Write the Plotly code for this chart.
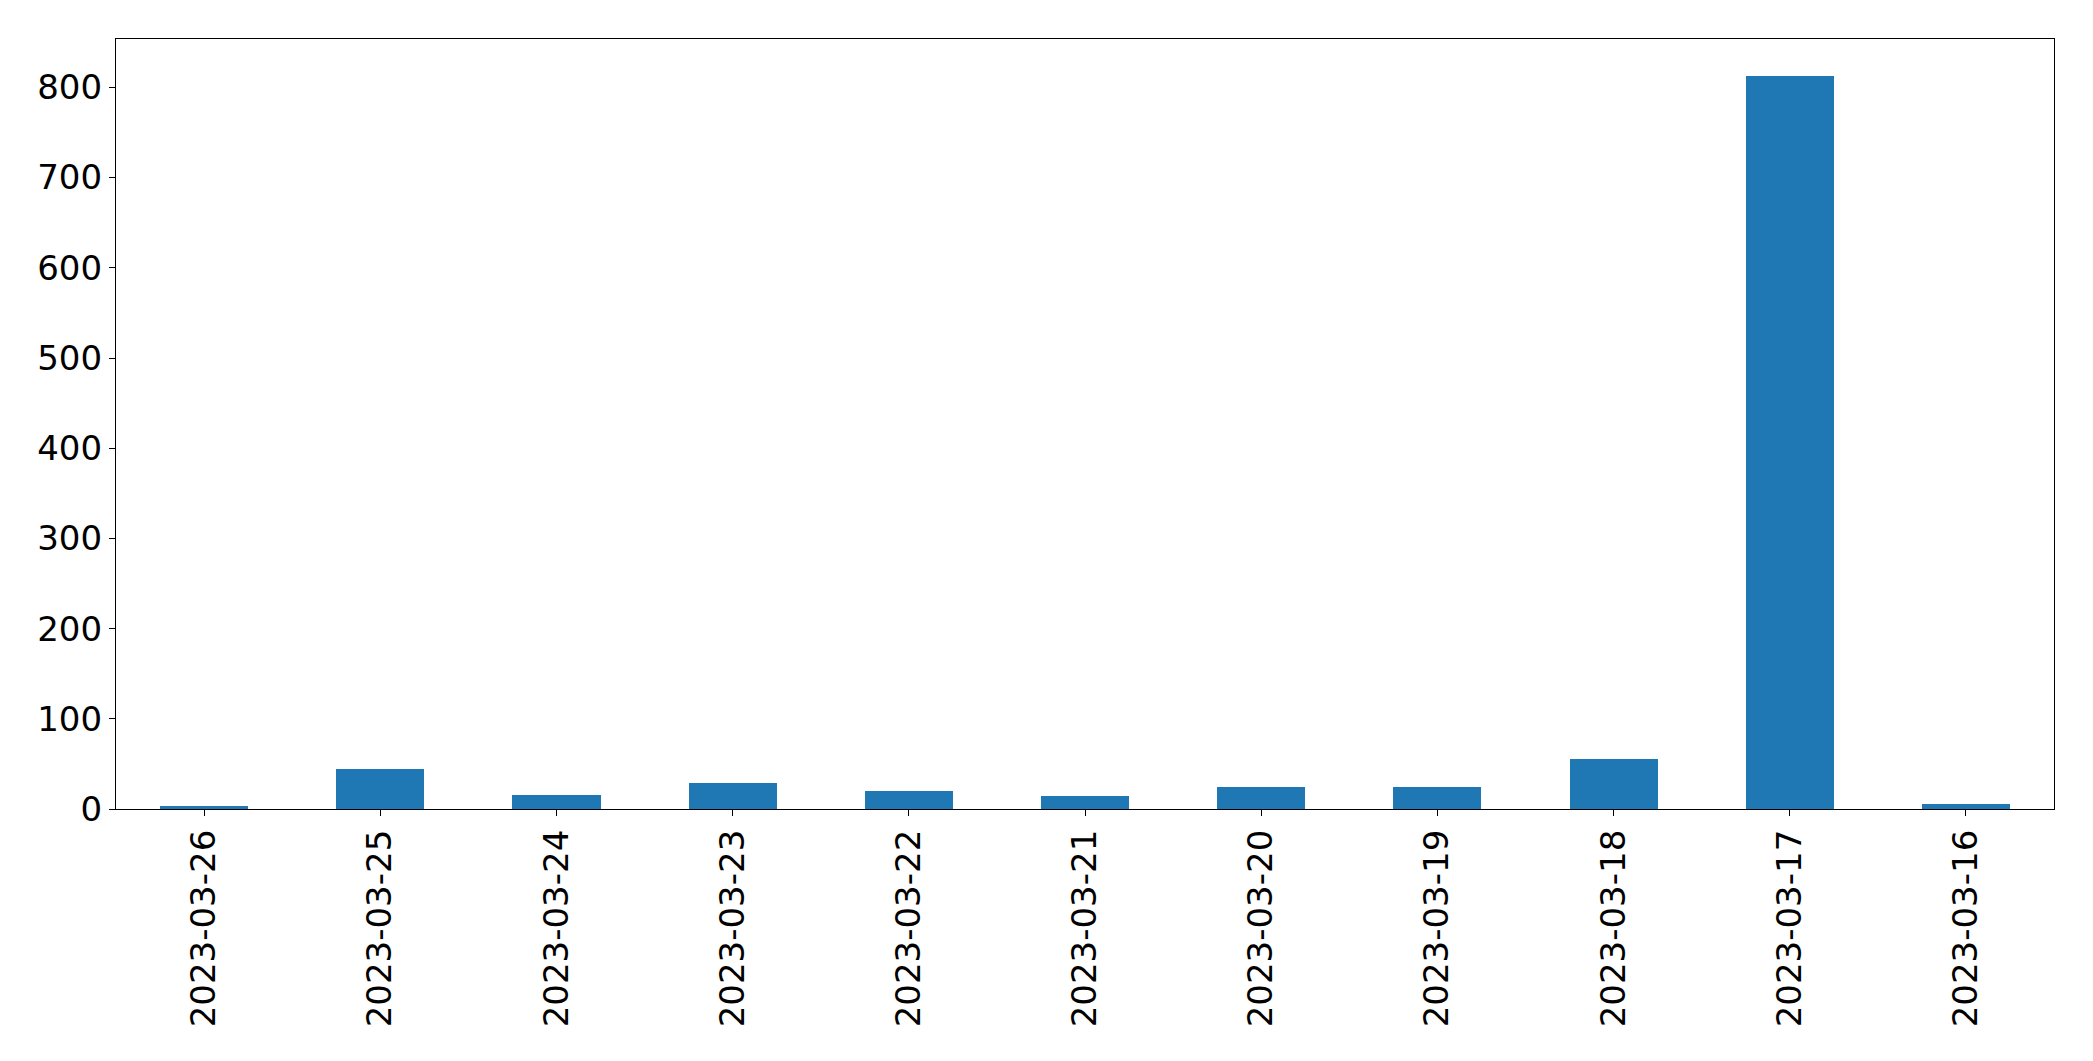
import plotly.graph_objects as go

dates = ["2023-03-26", "2023-03-25", "2023-03-24", "2023-03-23", "2023-03-22",
         "2023-03-21", "2023-03-20", "2023-03-19", "2023-03-18", "2023-03-17",
         "2023-03-16"]
counts = [3, 44, 16, 29, 20, 14, 24, 24, 55, 813, 5]
y_ticks = [0, 100, 200, 300, 400, 500, 600, 700, 800]

fig = go.Figure()
fig.add_trace(go.Bar(x=dates, y=counts, width=0.5, marker=dict(color="#1f77b4", line=dict(width=0))))

font = dict(family="DejaVu Sans", size=34, color="black")
fig.update_layout(
    width=2077, height=1045,
    margin=dict(l=108, r=31, t=31, b=244, pad=0),
    paper_bgcolor="white", plot_bgcolor="white",
    showlegend=False,
    font=font,
    bargap=0,
)
fig.update_xaxes(
    type="category", categoryorder="array", categoryarray=dates,
    range=[-0.5, len(dates) - 0.5],
    tickangle=-90, ticks="outside", ticklen=6, tickwidth=1.3, tickcolor="black",
    showline=True, linecolor="black", linewidth=1.3, mirror=True,
    showgrid=False, zeroline=False, tickfont=font,
)
fig.update_yaxes(
    range=[0, 813 * 1.05], tickvals=y_ticks,
    ticks="outside", ticklen=6, tickwidth=1.3, tickcolor="black",
    showline=True, linecolor="black", linewidth=1.3, mirror=True,
    showgrid=False, zeroline=False, tickfont=font,
)
fig.write_html("out.html")
